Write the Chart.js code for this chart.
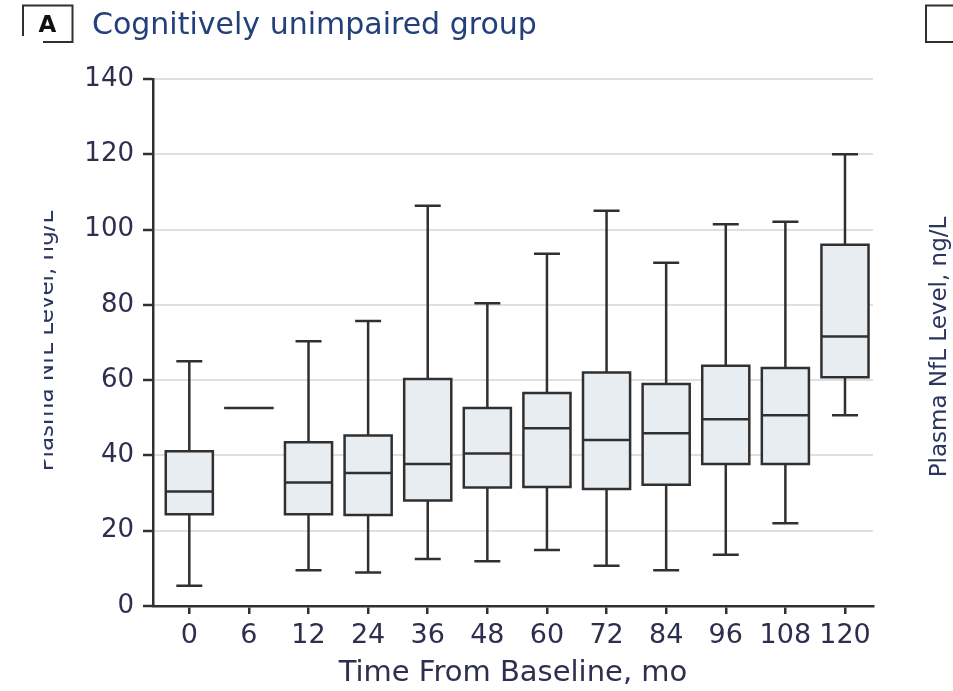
<!DOCTYPE html>
<html>
<head>
<meta charset="utf-8">
<script src="https://cdn.jsdelivr.net/npm/chart.js@4.4.1/dist/chart.umd.min.js"></script>
<style>
  html, body { margin: 0; padding: 0; background: #ffffff; overflow: hidden; }
  #wrap { width: 953px; height: 691px; position: relative; }
</style>
</head>
<body>
<div id="wrap"><canvas id="c" width="953" height="691"></canvas></div>
<script>
// Plasma NfL level (ng/L) by visit, cognitively unimpaired group
const months      = ['0', '6', '12', '24', '36', '48', '60', '72', '84', '96', '108', '120'];
const whiskerLow  = [5.4, null, 9.5, 8.9, 12.5, 11.9, 14.9, 10.7, 9.5, 13.6, 22.0, 50.7];
const q1          = [24.4, null, 24.4, 24.2, 28.0, 31.5, 31.6, 31.1, 32.2, 37.7, 37.7, 60.8];
const median      = [30.4, 52.6, 32.8, 35.3, 37.7, 40.5, 47.2, 44.1, 45.9, 49.6, 50.7, 71.6];
const q3          = [41.1, null, 43.5, 45.3, 60.3, 52.6, 56.6, 62.0, 59.0, 63.8, 63.2, 96.0];
const whiskerHigh = [65.0, null, 70.3, 75.7, 106.3, 80.4, 93.6, 105.0, 91.2, 101.4, 102.1, 120.0];
const yTickValues = [0, 20, 40, 60, 80, 100, 120, 140];

const INK = '#303030';
const LINE_W = 2.5;
const BOX_RATIO = 0.79;
const CAP_W = 26;

Chart.defaults.font.family = "'DejaVu Sans', sans-serif";

// Whiskers, box outlines and medians, placed through the chart's scales
const boxPlot = {
  id: 'boxPlot',
  beforeDatasetsDraw(chart) {
    const { ctx, scales: { x, y } } = chart;
    ctx.save();
    ctx.strokeStyle = INK;
    ctx.lineWidth = LINE_W;
    ctx.lineCap = 'butt';
    months.forEach((m, i) => {
      if (whiskerHigh[i] == null) return;
      const cx = x.getPixelForValue(i);
      const yHi = y.getPixelForValue(whiskerHigh[i]);
      const yLo = y.getPixelForValue(whiskerLow[i]);
      const yQ3 = y.getPixelForValue(q3[i]);
      const yQ1 = y.getPixelForValue(q1[i]);
      ctx.beginPath();
      ctx.moveTo(cx, yQ3); ctx.lineTo(cx, yHi);
      ctx.moveTo(cx, yQ1); ctx.lineTo(cx, yLo);
      ctx.moveTo(cx - CAP_W / 2, yHi); ctx.lineTo(cx + CAP_W / 2, yHi);
      ctx.moveTo(cx - CAP_W / 2, yLo); ctx.lineTo(cx + CAP_W / 2, yLo);
      ctx.stroke();
    });
    ctx.restore();
  },
  afterDatasetsDraw(chart) {
    const { ctx, scales: { x, y } } = chart;
    const step = x.getPixelForValue(1) - x.getPixelForValue(0);
    const w = step * BOX_RATIO;
    ctx.save();
    ctx.strokeStyle = INK;
    ctx.lineWidth = LINE_W;
    months.forEach((m, i) => {
      const cx = x.getPixelForValue(i);
      const yMed = y.getPixelForValue(median[i]);
      ctx.beginPath();
      if (q1[i] != null) {
        const yQ3 = y.getPixelForValue(q3[i]);
        const yQ1 = y.getPixelForValue(q1[i]);
        ctx.rect(cx - w / 2, yQ3, w, yQ1 - yQ3);
        ctx.moveTo(cx - w / 2, yMed); ctx.lineTo(cx + w / 2, yMed);
      } else {
        ctx.moveTo(cx - w / 2 - LINE_W / 2, yMed); ctx.lineTo(cx + w / 2 + LINE_W / 2, yMed);
      }
      ctx.stroke();
    });
    ctx.restore();
  }
};

// Panel heading and side labels of the figure
const panelText = {
  id: 'panelText',
  afterDraw(chart) {
    const { ctx, width } = chart;
    ctx.save();
    // panel letter box
    ctx.strokeStyle = INK;
    ctx.lineWidth = 2;
    ctx.beginPath();
    ctx.moveTo(23, 36); ctx.lineTo(23, 5.5); ctx.lineTo(72.5, 5.5); ctx.lineTo(72.5, 42); ctx.lineTo(43, 42);
    ctx.stroke();
    ctx.fillStyle = '#111111';
    ctx.font = "bold 23px 'DejaVu Sans'";
    ctx.textAlign = 'center';
    ctx.textBaseline = 'alphabetic';
    ctx.fillText('A', 47.5, 32);
    // panel title
    ctx.fillStyle = '#24407a';
    ctx.font = "30px 'DejaVu Sans'";
    ctx.textAlign = 'left';
    ctx.fillText('Cognitively unimpaired group', 92, 34);
    // neighbouring panel's letter box
    ctx.beginPath();
    ctx.moveTo(width + 2, 5.5); ctx.lineTo(926, 5.5); ctx.lineTo(926, 42); ctx.lineTo(width + 2, 42);
    ctx.stroke();
    // y-axis titles
    ctx.font = "23px 'DejaVu Sans'";
    ctx.fillStyle = '#2a3560';
    ctx.textAlign = 'center';
    ctx.save();
    ctx.beginPath();
    ctx.rect(44, 0, 200, chart.height);
    ctx.clip();
    ctx.translate(53, 341);
    ctx.rotate(-Math.PI / 2);
    ctx.fillText('Plasma NfL Level, ng/L', 0, 0);
    ctx.restore();
    ctx.save();
    ctx.translate(946, 347);
    ctx.rotate(-Math.PI / 2);
    ctx.fillText('Plasma NfL Level, ng/L', 0, 0);
    ctx.restore();
    ctx.restore();
  }
};

new Chart(document.getElementById('c'), {
  type: 'bar',
  data: {
    datasets: [{
      data: months.map((m, i) => ({ x: i, y: q1[i] == null ? null : [q1[i], q3[i]] })),
      backgroundColor: '#e8edf2',
      borderWidth: 0,
      categoryPercentage: 1,
      barPercentage: BOX_RATIO
    }]
  },
  options: {
    responsive: false,
    devicePixelRatio: 1,
    animation: false,
    layout: { padding: { top: 79, right: 80, bottom: 0, left: 0 } },
    plugins: { legend: { display: false }, tooltip: { enabled: false } },
    scales: {
      x: {
        type: 'linear',
        offset: false,
        min: -0.609,
        max: 11.47,
        afterBuildTicks: (s) => { s.ticks = months.map((m, i) => ({ value: i })); },
        afterFit: (s) => { s.height = 85; },
        ticks: {
          autoSkip: false,
          maxRotation: 0,
          padding: 6,
          color: '#2d2f4e',
          font: { size: 27 },
          callback: (v) => months[v]
        },
        grid: { offset: false, drawOnChartArea: false, drawTicks: true, tickLength: 8, tickColor: INK, tickWidth: LINE_W, lineWidth: LINE_W },
        border: { display: true, color: INK, width: LINE_W },
        title: { display: true, text: 'Time From Baseline, mo', color: '#2d2f4e', font: { size: 29 }, padding: { top: 0, bottom: 0 } }
      },
      y: {
        min: 0,
        max: 140,
        afterBuildTicks: (s) => { s.ticks = yTickValues.map(v => ({ value: v })); },
        afterFit: (s) => { s.width = 153; },
        ticks: { padding: 9, color: '#2d2f4e', font: { size: 26 } },
        grid: { color: '#e0e0e0', lineWidth: 2, tickLength: 10, tickColor: INK, tickWidth: LINE_W },
        border: { display: true, color: INK, width: LINE_W }
      }
    }
  },
  plugins: [boxPlot, panelText]
});
</script>
</body>
</html>
